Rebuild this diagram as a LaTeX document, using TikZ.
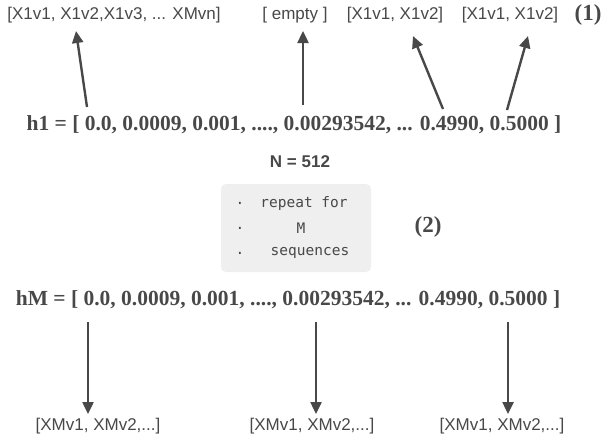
\documentclass[tikz,border=0pt]{standalone}
\usepackage{fontspec}
\setmainfont{Liberation Serif}
\setsansfont{Liberation Sans}
\setmonofont{DejaVu Sans Mono}
\usetikzlibrary{arrows.meta}
\definecolor{ink}{HTML}{484848}
\definecolor{boxgray}{HTML}{EFEFEF}
\begin{document}
\begin{tikzpicture}[x=1pt,y=-1pt,
  lbl/.style={text=ink,font=\sffamily\fontsize{17}{20}\selectfont,inner sep=0pt},
  vec/.style={text=ink,font=\bfseries\fontsize{21.5}{24}\selectfont,inner sep=0pt},
  code/.style={text=ink,font=\ttfamily\fontsize{14.5}{17}\selectfont,inner sep=0pt},
  tag/.style={text=ink,font=\bfseries\fontsize{23}{26}\selectfont,inner sep=0pt},
  arr/.style={draw=ink,line width=2.4pt,-{Triangle[length=12pt,width=11pt]}}]
\useasboundingbox (0,0) rectangle (604,445);
% sequences for h1
\node[lbl] (l1) at (114,15) {[X1v1, X1v2,X1v3, ... XMvn]};
\node[lbl] (l2) at (295,15) {[ empty ]};
\node[lbl] (l3) at (395,15) {[X1v1, X1v2]};
\node[lbl] (l4) at (510,15) {[X1v1, X1v2]};
\node[tag] (t1) at (588,15) {(1)};
\node[vec] (h1) at (294,125) {h1 = [ 0.0, 0.0009, 0.001, ...., 0.00293542, ... 0.4990, 0.5000 ]};
\coordinate (a1) at (87,107);  \coordinate (b1) at (76,31);
\coordinate (a2) at (303,105); \coordinate (b2) at (303,31);
\coordinate (a3) at (443,109); \coordinate (b3) at (413,36);
\coordinate (a4) at (507,110); \coordinate (b4) at (528,36);
\draw[arr] (a1) -- (b1);
\draw[arr] (a2) -- (b2);
\draw[arr] (a3) -- (b3);
\draw[arr] (a4) -- (b4);
% repeat block
\node[text=ink,font=\sffamily\bfseries\fontsize{17}{20}\selectfont,inner sep=0pt] (n) at (300,162) {N = 512};
\path[fill=boxgray,rounded corners=5pt] (221,184) rectangle (371,272);
\node[code] (d1) at (240,203) {.};
\node[code] (d2) at (240,228) {.};
\node[code] (d3) at (240,253) {.};
\node[code] (r1) at (304,203) {repeat for};
\node[code] (r2) at (301,228) {M};
\node[code] (r3) at (310,253) {sequences};
\node[tag] (t2) at (428,227) {(2)};
% sequences for hM
\node[vec] (hM) at (288,300) {hM = [ 0.0, 0.0009, 0.001, ...., 0.00293542, ... 0.4990, 0.5000 ]};
\node[lbl] (m1) at (98,426) {[XMv1, XMv2,...]};
\node[lbl] (m2) at (312,426) {[XMv1, XMv2,...]};
\node[lbl] (m3) at (502,426) {[XMv1, XMv2,...]};
\coordinate (c1) at (88,322);  \coordinate (e1) at (88,414);
\coordinate (c2) at (316,322); \coordinate (e2) at (316,414);
\coordinate (c3) at (508,322); \coordinate (e3) at (508,414);
\draw[arr] (c1) -- (e1);
\draw[arr] (c2) -- (e2);
\draw[arr] (c3) -- (e3);
\end{tikzpicture}
\end{document}
